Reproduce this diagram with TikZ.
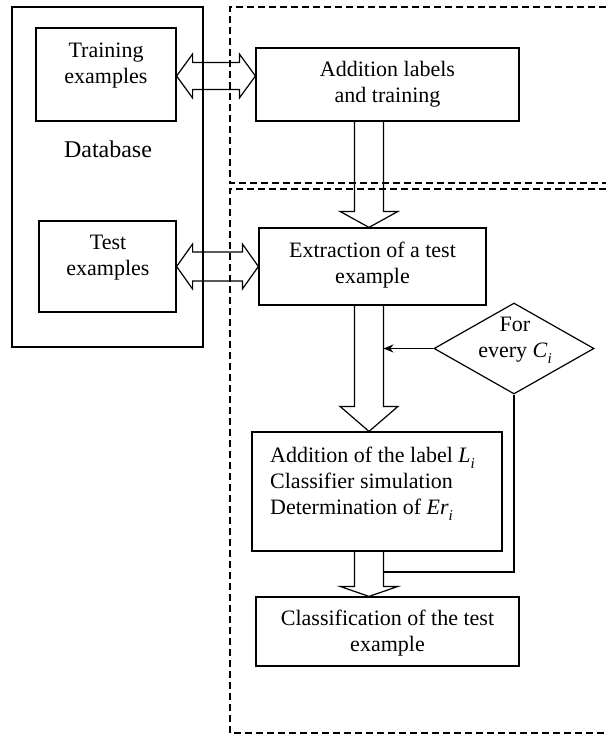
\documentclass[tikz,border=0pt]{standalone}
\usepackage{fontspec}
\setmainfont{Liberation Serif}
\usetikzlibrary{calc,arrows.meta,shapes.geometric}
\newcommand\mysub[1]{\raisebox{-0.28em}{\fontsize{15}{15}\selectfont\textit{#1}}}
\newcommand\dblarr[4]{% left tip, right tip, shaft half, head half
  \draw[fat] (#1) -- ($(#1)+(16,-#4)$) -- ($(#1)+(16,-#3)$) -- ($(#2)+(-16,-#3)$) -- ($(#2)+(-16,-#4)$) -- (#2)
   -- ($(#2)+(-16,#4)$) -- ($(#2)+(-16,#3)$) -- ($(#1)+(16,#3)$) -- ($(#1)+(16,#4)$) -- cycle;}
\newcommand\fatdown[3]{% top, tip, head length
  \draw[fat] ($(#1)+(-14.5,0)$) -- ($(#2)+(-14.5,-#3)$) -- ($(#2)+(-29,-#3)$) -- (#2)
   -- ($(#2)+(29,-#3)$) -- ($(#2)+(14.5,-#3)$) -- ($(#1)+(14.5,0)$);}
\begin{document}
\begin{tikzpicture}[x=1pt,y=-1pt,
  box/.style={draw,line width=1.2pt,rectangle,inner sep=0pt},
  txt/.style={inner sep=0pt,align=center,font=\fontsize{22}{26}\selectfont},
  fat/.style={draw,line width=1.2pt,line join=miter},
  thin/.style={draw,line width=1.1pt},
  dashline/.style={draw,line width=1.4pt,dash pattern=on 7pt off 4pt}]
\useasboundingbox (0,0) rectangle (606,736);
% dashed regions
\draw[dashline] (606,7) -- (230,7) -- (230,183) -- (606,183);
\draw[dashline] (606,189) -- (230,189) -- (230,733) -- (606,733);
% boxes
\node[box,minimum width=191pt,minimum height=340pt] (db) at (107.5,177) {};
\node[box,minimum width=140pt,minimum height=93pt] (train) at (106,74.5) {};
\node[box,minimum width=137pt,minimum height=91pt] (test) at (107.5,266.5) {};
\node[box,minimum width=263pt,minimum height=73pt] (addl) at (387.5,84.5) {};
\node[box,minimum width=227pt,minimum height=77pt] (extr) at (372.5,266.5) {};
\node[draw,line width=1.2pt,diamond,inner sep=0pt,minimum width=160pt,minimum height=91pt] (dia) at (514,348.5) {};
\node[box,minimum width=250pt,minimum height=119pt] (sim) at (377,491.5) {};
\node[box,minimum width=263pt,minimum height=69pt] (cls) at (387.5,631.5) {};
% texts
\node[txt] (t1) at (106,66) {Training\\examples};
\node[txt,font=\fontsize{24}{28}\selectfont] (t2) at (108,149) {Database};
\node[txt] (t3) at (108,258) {Test\\examples};
\node[txt] (t4) at (387.5,84.5) {Addition labels\\and training};
\node[txt] (t5) at (372.5,265) {Extraction of a test\\example};
\node[txt] (t6) at (515,340) {For\\every \textit{C}\mysub{i}};
\node[txt,align=left,anchor=west] (t7) at (270,484) {Addition of the label \textit{L}\mysub{i}\\Classifier simulation\\Determination of \textit{Er}\mysub{i}};
\node[txt] (t8) at (387.5,633.5) {Classification of the test\\example};
% double arrows
\coordinate (y1) at (0,76);
\dblarr{train.east |- y1}{addl.west |- y1}{13.5}{22}
\dblarr{test.east}{extr.west}{14.5}{22.5}
% vertical fat arrows
\coordinate (ax) at (369,0);
\fatdown{ax |- addl.south}{ax |- extr.north}{16}
\fatdown{ax |- extr.south}{ax |- sim.north}{25}
\fatdown{ax |- sim.south}{ax |- cls.north}{10}
% loop connectors
\coordinate (j1) at ($(ax |- dia.west)+(14.5,0)$);
\coordinate (j2) at ($(ax)+(14.5,572)$);
\draw[thin,-{Stealth[length=10pt,width=8pt]}] (dia.west) -- (j1);
\draw[thin] (dia.south) |- (j2);
\end{tikzpicture}
\end{document}
